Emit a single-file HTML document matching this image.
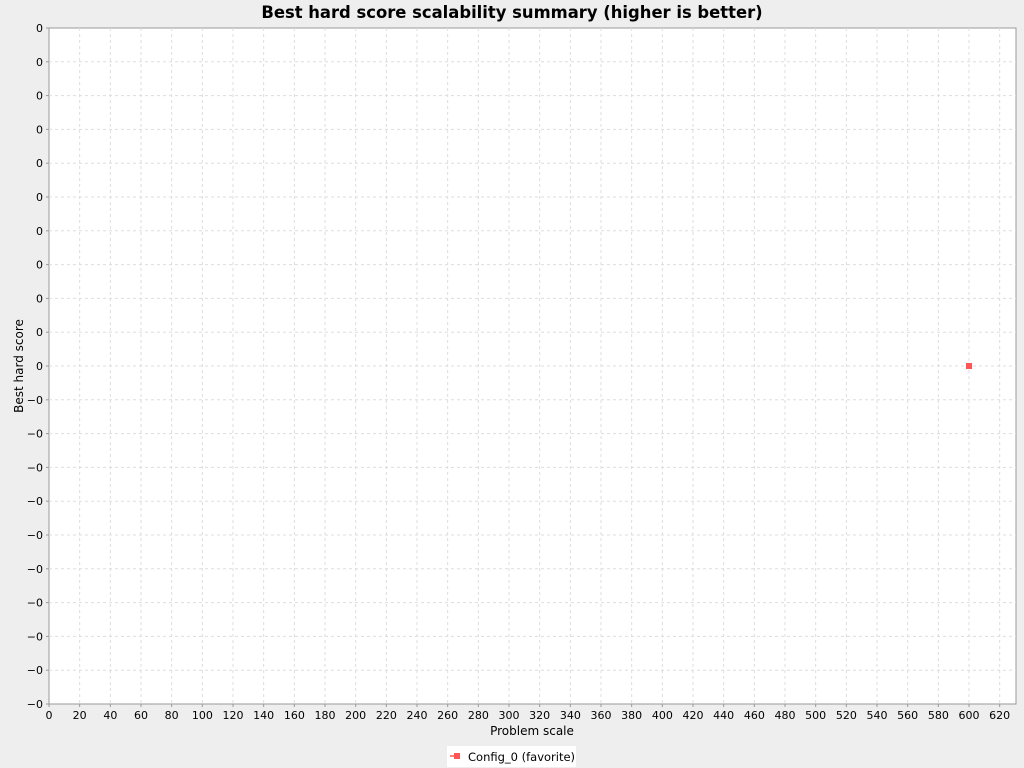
<!DOCTYPE html>
<html><head><meta charset="utf-8"><style>
body{margin:0;background:#eeeeee;font-family:"Liberation Sans","DejaVu Sans",sans-serif;}
svg{display:block}
</style></head><body>
<svg id="chart" width="1024" height="768">
<rect x="0" y="0" width="1024" height="768" fill="#eeeeee"/>
<text x="512" y="18" text-anchor="middle" font-size="16.4" font-weight="bold" fill="#000" font-family="DejaVu Sans, sans-serif">Best hard score scalability summary (higher is better)</text>
<rect x="49" y="28" width="967" height="676" fill="#fff" stroke="#999"/>
<g id="grid"></g><g id="yt"></g><g id="xt"></g><g id="marks"></g>
<text x="532" y="735" text-anchor="middle" font-size="12" font-family="DejaVu Sans, sans-serif">Problem scale</text>
<text transform="translate(23,366) rotate(-90)" text-anchor="middle" font-size="12" font-family="DejaVu Sans, sans-serif">Best hard score</text>
<g>
<rect x="447" y="746" width="129" height="21" fill="#fff"/>
<line x1="450" y1="756" x2="455" y2="756" stroke="#ff5555" stroke-width="1.5"/>
<rect x="454" y="753" width="6" height="6" fill="#ff5555"/>
<text x="468" y="761" font-size="11.5" font-family="DejaVu Sans, sans-serif">Config_0 (favorite)</text>
</g>
</svg>
<script>
const xTicks=[0,20,40,60,80,100,120,140,160,180,200,220,240,260,280,300,320,340,360,380,400,420,440,460,480,500,520,540,560,580,600,620];
const yTicks=[0.1,0.09,0.08,0.07,0.06,0.05,0.04,0.03,0.02,0.01,0,-0.01,-0.02,-0.03,-0.04,-0.05,-0.06,-0.07,-0.08,-0.09,-0.1];
const seriesX=[600];
const seriesY=[0];
const NS="http://www.w3.org/2000/svg";
const X0=49,X1=1016,Y0=28,Y1=704,xmin=0,xmax=630.65,ymin=-0.1,ymax=0.1;
function sx(v){return X0+(v-xmin)/(xmax-xmin)*(X1-X0);}
function sy(v){return Y1-(v-ymin)/(ymax-ymin)*(Y1-Y0);}
function mk(t,a,p){const e=document.createElementNS(NS,t);for(const k in a)e.setAttribute(k,a[k]);document.getElementById(p).appendChild(e);return e;}
function fmt(v){return v<0?"\u22120":"0";}
xTicks.forEach(v=>{const x=sx(v);
 if(v>0){const g=mk('line',{x1:x,x2:x,y1:Y0,y2:Y1,stroke:'#dddddd','stroke-dasharray':'3,3'},'grid');
 
 }
 mk('line',{x1:x,x2:x,y1:Y1,y2:Y1+3,stroke:'#999'},'xt');
 const t=mk('text',{x:x,y:Y1+15,'text-anchor':'middle','font-size':11,'font-family':'DejaVu Sans, sans-serif'},'xt');t.textContent=v;
 
 });
yTicks.forEach(v=>{const y=sy(v);
 if(y>Y0+1&&y<Y1-1){const g=mk('line',{x1:X0,x2:X1,y1:y,y2:y,stroke:'#dddddd','stroke-dasharray':'3,3'},'grid');
 
 }
 mk('line',{x1:X0-3,x2:X0,y1:y,y2:y,stroke:'#999'},'yt');
 const t=mk('text',{x:X0-6,y:y+4,'text-anchor':'end','font-size':11,'font-family':'DejaVu Sans, sans-serif'},'yt');t.textContent=fmt(v);
 
 });
seriesX.forEach((v,i)=>{const p=mk('rect',{x:sx(v)-3,y:sy(seriesY[i])-3,width:6,height:6,fill:'#ff5555'},'marks');
 
 });
</script>
</body></html>
